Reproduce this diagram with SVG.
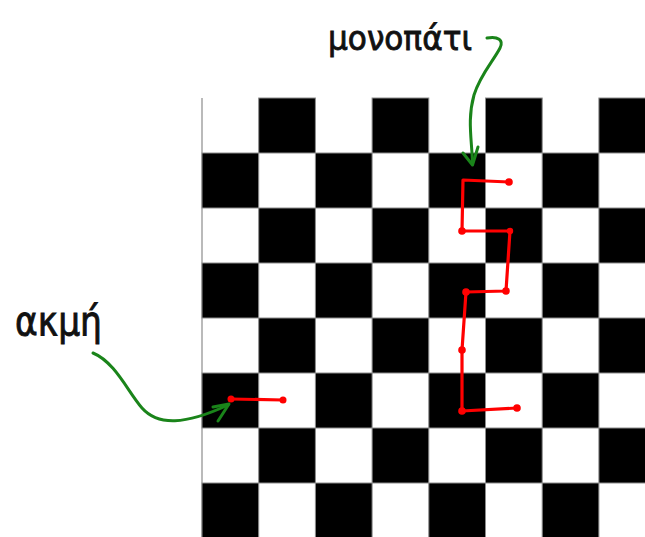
<svg xmlns="http://www.w3.org/2000/svg" width="645" height="537" viewBox="0 0 645 537">
<style>
.b{fill:#000;stroke:#8c8c8c;stroke-width:1}
.edge{stroke:#8c8c8c;stroke-width:1.2}
.path{fill:none;stroke:#ff0000;stroke-width:3.2;stroke-linejoin:round;stroke-linecap:round}
.dot{fill:#ff0000}
.arrow{fill:none;stroke:#1a841a;stroke-width:3;stroke-linecap:round;stroke-linejoin:round}
.lbl{font-family:"DejaVu Sans","Liberation Sans",sans-serif;fill:#111;stroke:#111;stroke-width:0.9}
</style>
<rect width="645" height="537" fill="#fff"/>
<g id="board">
<line class="edge" x1="202" y1="98" x2="202" y2="537"/>
<rect class="b" x="258.7" y="98" width="56.7" height="55"/>
<rect class="b" x="372.1" y="98" width="56.7" height="55"/>
<rect class="b" x="485.5" y="98" width="56.7" height="55"/>
<rect class="b" x="598.9" y="98" width="56.7" height="55"/>
<rect class="b" x="202" y="153" width="56.7" height="55"/>
<rect class="b" x="315.4" y="153" width="56.7" height="55"/>
<rect class="b" x="428.8" y="153" width="56.7" height="55"/>
<rect class="b" x="542.2" y="153" width="56.7" height="55"/>
<rect class="b" x="258.7" y="208" width="56.7" height="55"/>
<rect class="b" x="372.1" y="208" width="56.7" height="55"/>
<rect class="b" x="485.5" y="208" width="56.7" height="55"/>
<rect class="b" x="598.9" y="208" width="56.7" height="55"/>
<rect class="b" x="202" y="263" width="56.7" height="55"/>
<rect class="b" x="315.4" y="263" width="56.7" height="55"/>
<rect class="b" x="428.8" y="263" width="56.7" height="55"/>
<rect class="b" x="542.2" y="263" width="56.7" height="55"/>
<rect class="b" x="258.7" y="318" width="56.7" height="55"/>
<rect class="b" x="372.1" y="318" width="56.7" height="55"/>
<rect class="b" x="485.5" y="318" width="56.7" height="55"/>
<rect class="b" x="598.9" y="318" width="56.7" height="55"/>
<rect class="b" x="202" y="373" width="56.7" height="55"/>
<rect class="b" x="315.4" y="373" width="56.7" height="55"/>
<rect class="b" x="428.8" y="373" width="56.7" height="55"/>
<rect class="b" x="542.2" y="373" width="56.7" height="55"/>
<rect class="b" x="258.7" y="428" width="56.7" height="55"/>
<rect class="b" x="372.1" y="428" width="56.7" height="55"/>
<rect class="b" x="485.5" y="428" width="56.7" height="55"/>
<rect class="b" x="598.9" y="428" width="56.7" height="55"/>
<rect class="b" x="202" y="483" width="56.7" height="56"/>
<rect class="b" x="315.4" y="483" width="56.7" height="56"/>
<rect class="b" x="428.8" y="483" width="56.7" height="56"/>
<rect class="b" x="542.2" y="483" width="56.7" height="56"/>
</g>
<g id="path-red">
<polyline class="path" points="509,182 463,180 462,231 510,231 506,291 466,292 462,350 462,411 517,408"/>
<circle class="dot" cx="509" cy="182" r="3.8"/>
<circle class="dot" cx="462" cy="231" r="3.8"/>
<circle class="dot" cx="510" cy="231" r="3.2"/>
<circle class="dot" cx="506" cy="291" r="3.8"/>
<circle class="dot" cx="466" cy="292" r="3.8"/>
<circle class="dot" cx="462" cy="350" r="3.8"/>
<circle class="dot" cx="462" cy="411" r="3.8"/>
<circle class="dot" cx="517" cy="408" r="3.8"/>
</g>
<g id="edge-red">
<polyline class="path" points="231,399 283,400"/>
<circle class="dot" cx="231" cy="399" r="3.5"/>
<circle class="dot" cx="283" cy="400" r="3.5"/>
</g>
<g id="connectors">
<path class="arrow" d="M93,353 C115,362 128,392 142,408 C158,426 185,425 228,405"/>
<path class="arrow" d="M213,407 L229,404 L218,421"/>
<path class="arrow" d="M487,38 C498,36 504,40 500,48 C494,60 480,75 474,95 C467,120 472,140 472.5,164"/>
<path class="arrow" d="M463,153 L472.5,165 L478,147"/>
</g>
<g id="label-path">
<text class="lbl" x="328" y="50" font-size="34" textLength="144" lengthAdjust="spacingAndGlyphs">μονοπάτι</text>
</g>
<g id="label-edge">
<text class="lbl" x="15" y="335" font-size="40" textLength="87" lengthAdjust="spacingAndGlyphs">ακμή</text>
</g>
</svg>
